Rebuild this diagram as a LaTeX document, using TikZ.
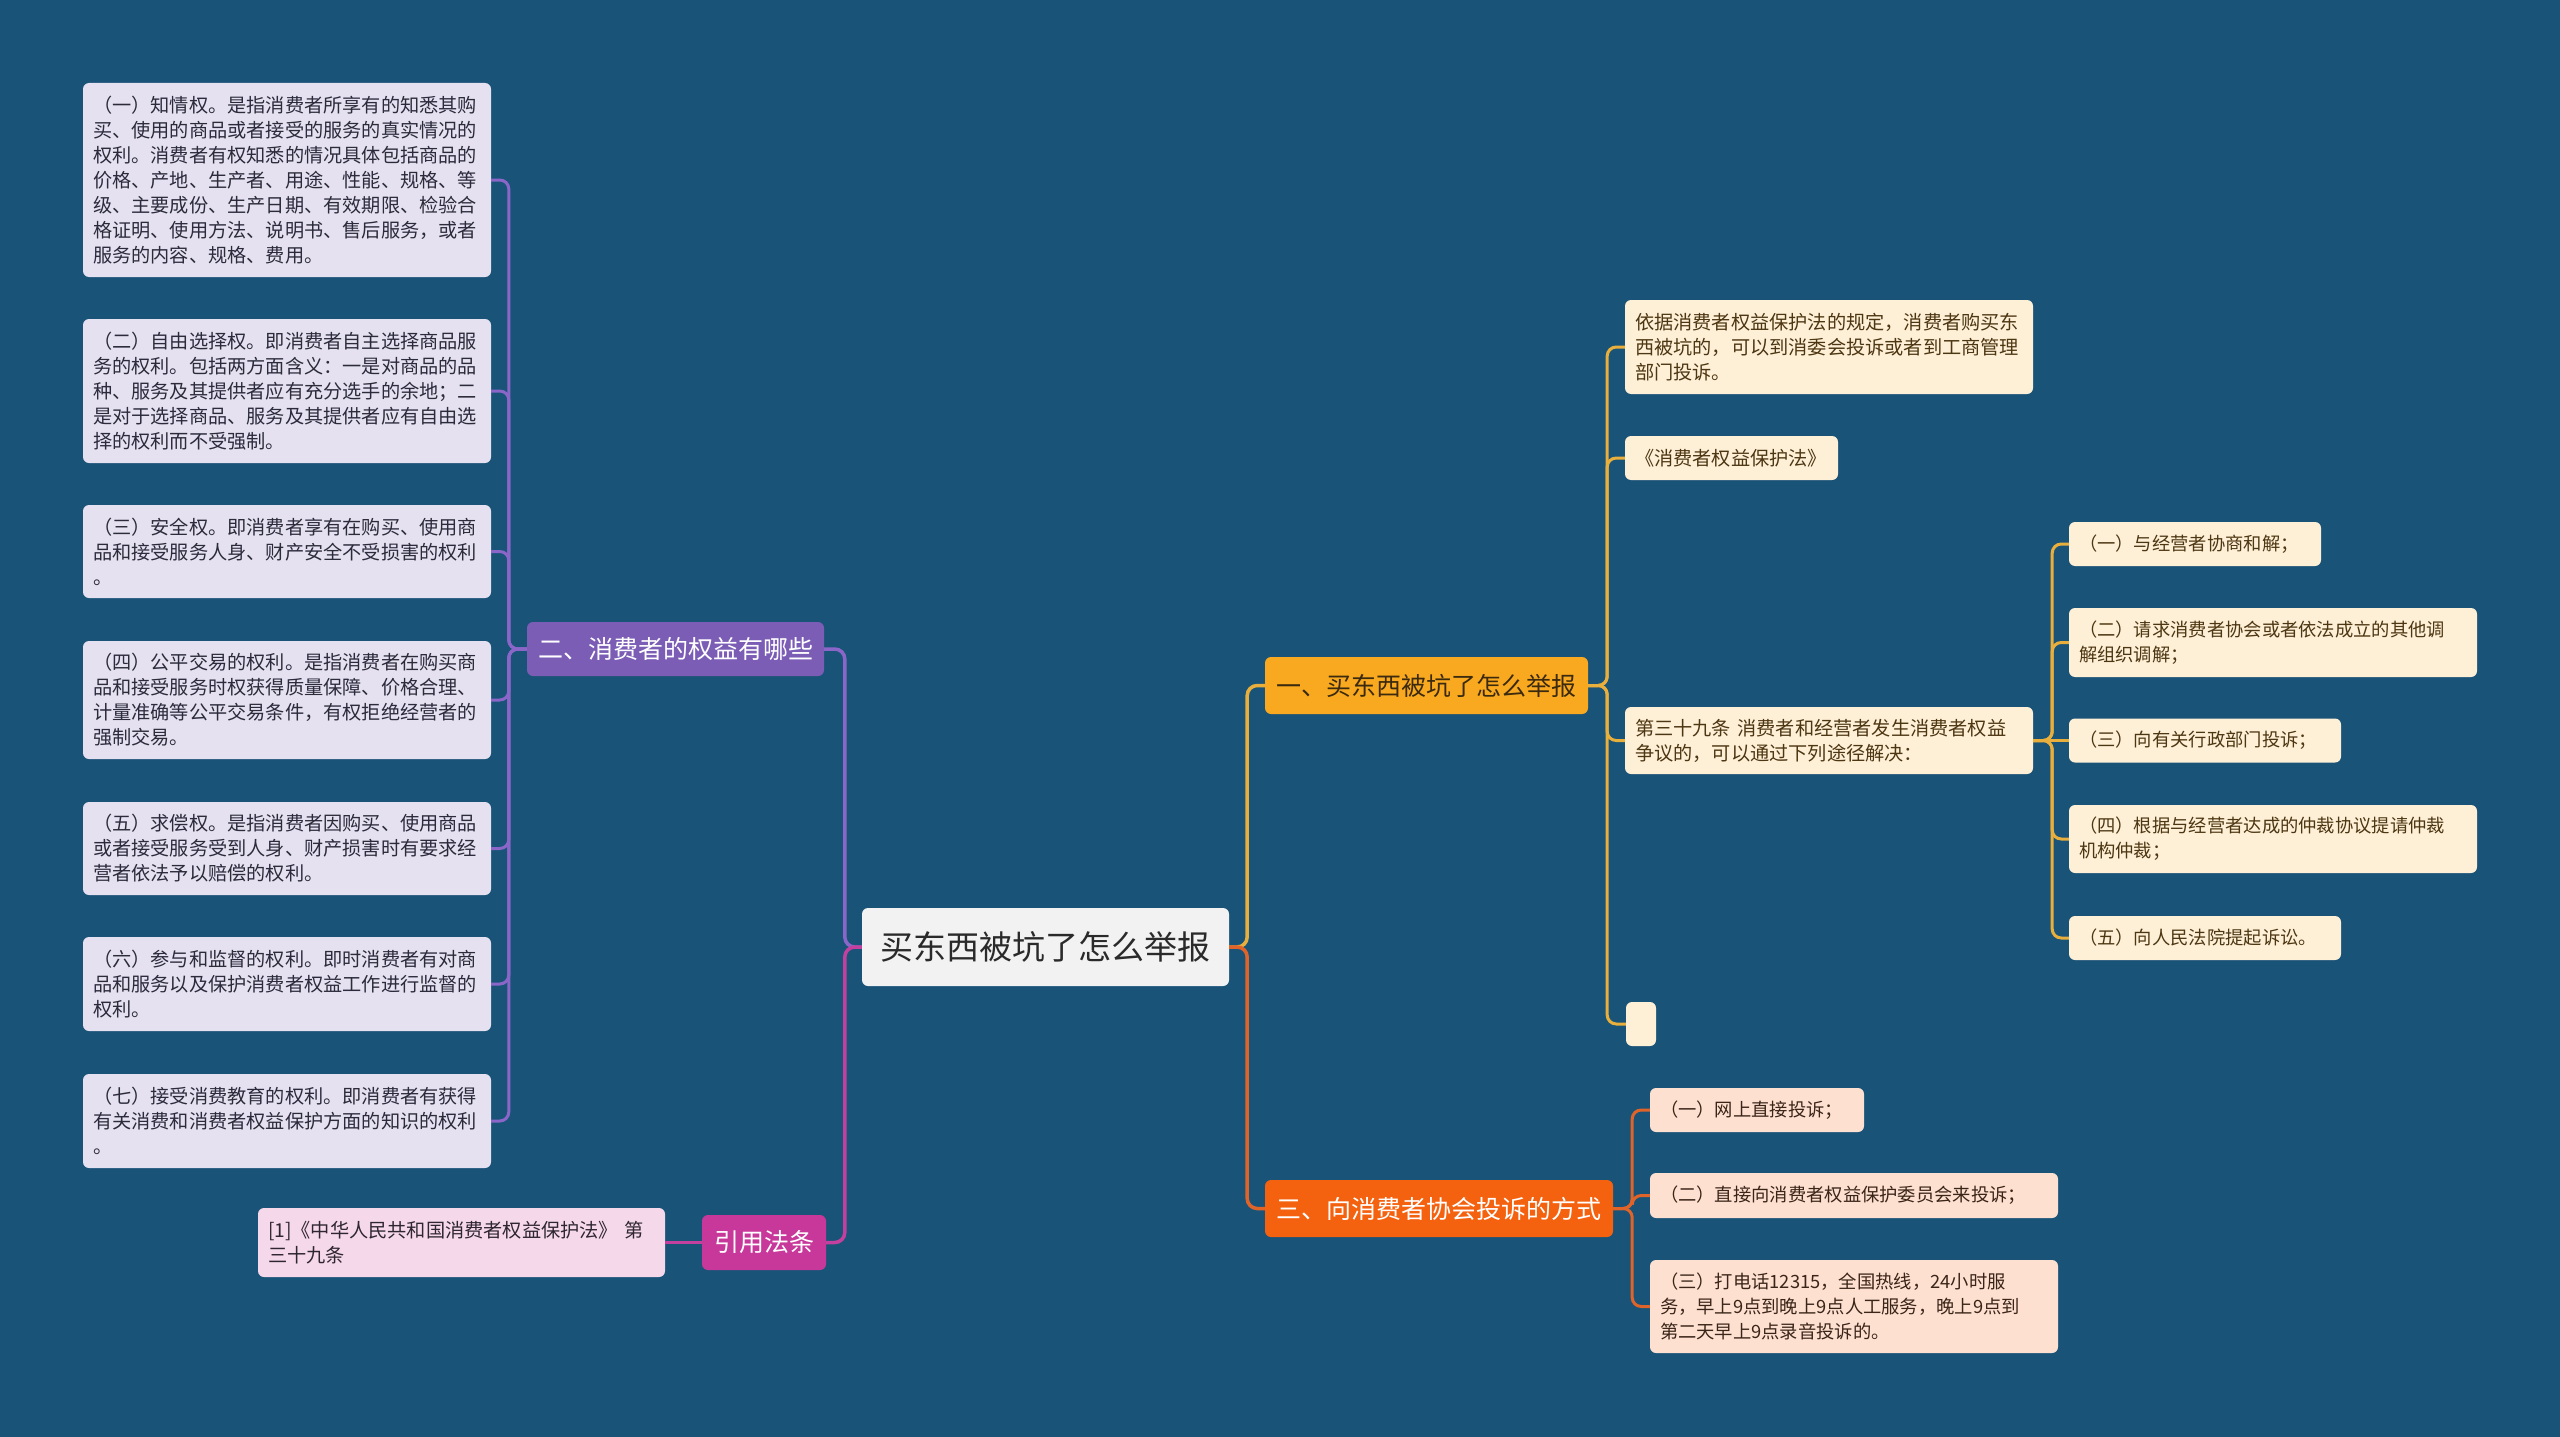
\documentclass[tikz,border=0pt]{standalone}
\usepackage{fontspec}
\setmainfont{Noto Sans CJK SC}
\definecolor{bg}{HTML}{1A5378}
\definecolor{lvfill}{HTML}{E5E1F1}
\definecolor{lvtext}{HTML}{2B2B3B}
\definecolor{crfill}{HTML}{FEF0D7}
\definecolor{crtext}{HTML}{4D3612}
\definecolor{pcfill}{HTML}{FDE0D0}
\definecolor{pctext}{HTML}{3A2518}
\definecolor{pkfill}{HTML}{F6D8EB}
\definecolor{pktext}{HTML}{2E2630}
\definecolor{cfill}{HTML}{F2F2F2}
\definecolor{ctext}{HTML}{2A2A2A}
\definecolor{bafill}{HTML}{F9A920}
\definecolor{batext}{HTML}{3B2A0E}
\definecolor{bbfill}{HTML}{7B5DB6}
\definecolor{bcfill}{HTML}{F5620F}
\definecolor{citefill}{HTML}{C8389A}
\definecolor{ylink}{HTML}{E9AF3C}
\definecolor{olink}{HTML}{E0642A}
\definecolor{plink}{HTML}{8B66C9}
\definecolor{mlink}{HTML}{C3409E}
\tikzset{
  mmbox/.style={rounded corners=6pt, inner xsep=10pt, inner ysep=0pt, align=left},
  lleaf/.style={mmbox, fill=lvfill, text=lvtext, font=\fontsize{19.2}{25}\selectfont},
  rleaf/.style={mmbox, fill=crfill, text=crtext, font=\fontsize{19.2}{25}\selectfont},
  sleaf/.style={mmbox, fill=crfill, text=crtext, font=\fontsize{18.3}{25}\selectfont},
  tleaf/.style={mmbox, fill=pcfill, text=pctext, font=\fontsize{18.3}{25}\selectfont},
  refleaf/.style={mmbox, fill=pkfill, text=pktext, font=\fontsize{19.2}{25}\selectfont},
  branch/.style={rounded corners=6pt, inner sep=0pt, align=center, font=\fontsize{25}{30}\selectfont},
  link/.style={line width=3pt, rounded corners=9pt},
  mainlink/.style={line width=3.5pt, rounded corners=10pt},
}
\begin{document}
\begin{tikzpicture}[x=1pt,y=-1pt]
\fill[bg] (0,0) rectangle (2560,1437);
\useasboundingbox (0,0) rectangle (2560,1437);

% centre
\node[branch, fill=cfill, text=ctext, font=\fontsize{33}{38}\selectfont, minimum width=367pt, minimum height=78pt] (c) at (1045.5,947) {买东西被坑了怎么举报};

% branches
\node[branch, fill=bafill, text=batext, minimum width=323pt, minimum height=57pt] (b1) at (1426.5,685.5) {一、买东西被坑了怎么举报};
\node[branch, fill=bbfill, text=white, minimum width=297pt, minimum height=54pt] (b2) at (675.5,649) {二、消费者的权益有哪些};
\node[branch, fill=bcfill, text=white, minimum width=348pt, minimum height=57pt] (b3) at (1439,1208.5) {三、向消费者协会投诉的方式};
\node[branch, fill=citefill, text=white, minimum width=124pt, minimum height=55pt] (cite) at (764,1242.5) {引用法条};

% left leaves
\node[lleaf, text width=388pt, minimum height=194pt] (l1) at (287,180) {（一）知情权。是指消费者所享有的知悉其购\\买、使用的商品或者接受的服务的真实情况的\\权利。消费者有权知悉的情况具体包括商品的\\价格、产地、生产者、用途、性能、规格、等\\级、主要成份、生产日期、有效期限、检验合\\格证明、使用方法、说明书、售后服务，或者\\服务的内容、规格、费用。};
\node[lleaf, text width=388pt, minimum height=144pt] (l2) at (287,391) {（二）自由选择权。即消费者自主选择商品服\\务的权利。包括两方面含义：一是对商品的品\\种、服务及其提供者应有充分选手的余地；二\\是对于选择商品、服务及其提供者应有自由选\\择的权利而不受强制。};
\node[lleaf, text width=388pt, minimum height=93pt] (l3) at (287,551.5) {（三）安全权。即消费者享有在购买、使用商\\品和接受服务人身、财产安全不受损害的权利\\。};
\node[lleaf, text width=388pt, minimum height=118pt] (l4) at (287,700) {（四）公平交易的权利。是指消费者在购买商\\品和接受服务时权获得质量保障、价格合理、\\计量准确等公平交易条件，有权拒绝经营者的\\强制交易。};
\node[lleaf, text width=388pt, minimum height=93pt] (l5) at (287,848.5) {（五）求偿权。是指消费者因购买、使用商品\\或者接受服务受到人身、财产损害时有要求经\\营者依法予以赔偿的权利。};
\node[lleaf, text width=388pt, minimum height=94pt] (l6) at (287,984) {（六）参与和监督的权利。即时消费者有对商\\品和服务以及保护消费者权益工作进行监督的\\权利。};
\node[lleaf, text width=388pt, minimum height=94pt] (l7) at (287,1121) {（七）接受消费教育的权利。即消费者有获得\\有关消费和消费者权益保护方面的知识的权利\\。};

\node[refleaf, text width=387pt, minimum height=69pt] (ref) at (461.5,1242.5) {[1]《中华人民共和国消费者权益保护法》 第\\三十九条};

% right leaves of branch 1
\node[rleaf, text width=388pt, minimum height=94pt] (r1) at (1829,347) {依据消费者权益保护法的规定，消费者购买东\\西被坑的，可以到消委会投诉或者到工商管理\\部门投诉。};
\node[rleaf, text width=193pt, minimum height=44pt] (r2) at (1731.5,458) {《消费者权益保护法》};
\node[rleaf, text width=388pt, minimum height=67pt] (r3) at (1829,740.5) {第三十九条 消费者和经营者发生消费者权益\\争议的，可以通过下列途径解决：};
\node[rleaf, text width=10pt, minimum height=44pt] (r4) at (1641,1024) {};

\node[sleaf, text width=232pt, minimum height=44pt] (s1) at (2195,544) {（一）与经营者协商和解；};
\node[sleaf, text width=388pt, minimum height=69pt] (s2) at (2273,642.5) {（二）请求消费者协会或者依法成立的其他调\\解组织调解；};
\node[sleaf, text width=252pt, minimum height=44pt] (s3) at (2205,740.5) {（三）向有关行政部门投诉；};
\node[sleaf, text width=388pt, minimum height=68pt] (s4) at (2273,839) {（四）根据与经营者达成的仲裁协议提请仲裁\\机构仲裁；};
\node[sleaf, text width=252pt, minimum height=44pt] (s5) at (2205,938) {（五）向人民法院提起诉讼。};

% leaves of branch 3
\node[tleaf, text width=194pt, minimum height=44pt] (t1) at (1757,1110) {（一）网上直接投诉；};
\node[tleaf, text width=388pt, minimum height=45pt] (t2) at (1854,1195.5) {（二）直接向消费者权益保护委员会来投诉；};
\node[tleaf, text width=388pt, minimum height=93pt] (t3) at (1854,1306.5) {（三）打电话12315，全国热线，24小时服\\务，早上9点到晚上9点人工服务，晚上9点到\\第二天早上9点录音投诉的。};

% main connectors
\draw[mainlink, ylink] (c.east) -- ++(18,0) |- (b1.west);
\draw[mainlink, olink] (c.east) -- ++(18,0) |- (b3.west);
\draw[mainlink, plink] (c.west) -- ++(-17,0) |- (b2.east);
\draw[mainlink, mlink] (c.west) -- ++(-17,0) |- (cite.east);

% branch 2 connectors
\foreach \n in {l1,l2,l3,l4,l5,l6,l7}
  \draw[link, plink] (b2.west) -- ++(-18,0) |- (\n.east);
\draw[link, mlink] (cite.west) -- (ref.east);

% branch 1 connectors
\foreach \n in {r1,r2,r3,r4}
  \draw[link, ylink] (b1.east) -- ++(19,0) |- (\n.west);
\foreach \n in {s1,s2,s4,s5}
  \draw[link, ylink] (r3.east) -- ++(19,0) |- (\n.west);
\draw[link, ylink] (r3.east) -- (s3.west);

% branch 3 connectors
\foreach \n in {t1,t2,t3}
  \draw[link, olink] (b3.east) -- ++(19,0) |- (\n.west);
\end{tikzpicture}
\end{document}
